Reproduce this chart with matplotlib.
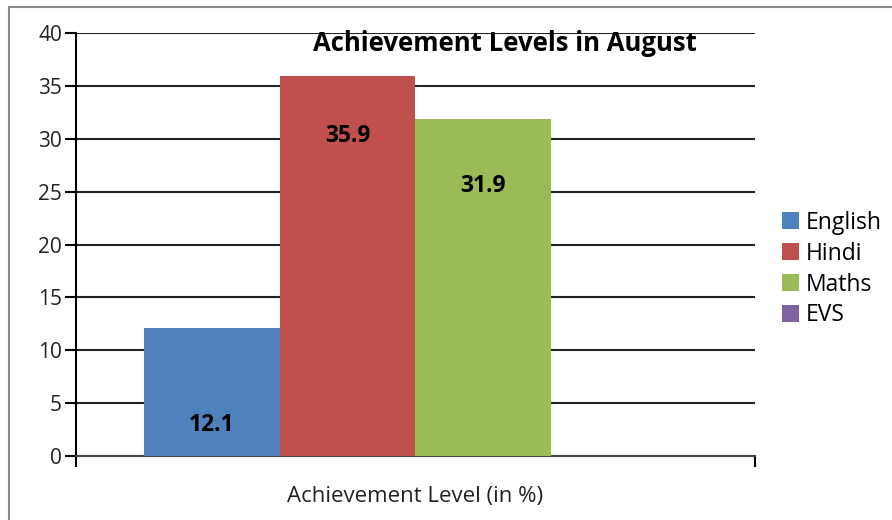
import matplotlib.pyplot as plt
from matplotlib.patches import Rectangle

subjects = ['English', 'Hindi', 'Maths', 'EVS']
levels = [12.1, 35.9, 31.9, 0]
colors = ['#4F81BD', '#C0504D', '#9BBB59', '#8064A2']
labels = ['12.1', '35.9', '31.9', '']

plt.rcParams['font.family'] = ['Open Sans', 'DejaVu Sans']

fig = plt.figure(figsize=(8.92, 5.2), dpi=100)
ax = fig.add_axes([0.0852, 0.123, 0.7612, 0.8135])

# grey frame round the chart
fig.patches.append(Rectangle((9/892, -0.1), 1.2, 1 - 7/520 + 0.1, transform=fig.transFigure,
                             fill=False, edgecolor='#8c8c8c', linewidth=1.5))

w = 0.2
for i, (s, v, c) in enumerate(zip(subjects, levels, colors)):
    x = -0.3 + i * w
    ax.bar(x, v, width=w, color=c, label=s, zorder=3)

# label heights inside the bars (data units)
label_y = [2.9, 30.3, 25.5, 0]
for i, (t, ly) in enumerate(zip(labels, label_y)):
    if t:
        ax.text(-0.3 + i * w, ly, t, ha='center', va='center',
                fontsize=16.5, fontweight='bold', color='black', zorder=4)

ax.set_xlim(-0.5, 0.5)
ax.set_ylim(0, 40)
ax.set_yticks(range(0, 41, 5))
ax.set_xticks([-0.5, 0.5])
ax.set_xticklabels(['', ''])
ax.tick_params(axis='y', direction='out', length=8, width=1.5, labelsize=15, pad=2,
               labelcolor='#222222')
ax.tick_params(axis='x', direction='out', length=8, width=1.5)
ax.yaxis.grid(True, color='#222222', linewidth=1.5, zorder=1)
ax.set_axisbelow(True)
for sp in ['top', 'right']:
    ax.spines[sp].set_visible(False)
ax.spines['left'].set_linewidth(1.5)
ax.spines['bottom'].set_linewidth(1.5)
ax.spines['bottom'].set_color('#444444')

ax.set_xlabel('Achievement Level (in %)', fontsize=16, labelpad=10, color='#222222')
ax.text(0.632, 0.975, 'Achievement Levels in August', transform=ax.transAxes,
        ha='center', va='center', fontsize=18.5, fontweight='bold')

leg = ax.legend(loc='center left', bbox_to_anchor=(1.026, 0.442), frameon=False,
                fontsize=16.5, handlelength=0.75, handleheight=0.75, handletextpad=0.3,
                labelspacing=0.3, borderaxespad=0)

fig.savefig('out.png', dpi=100)
